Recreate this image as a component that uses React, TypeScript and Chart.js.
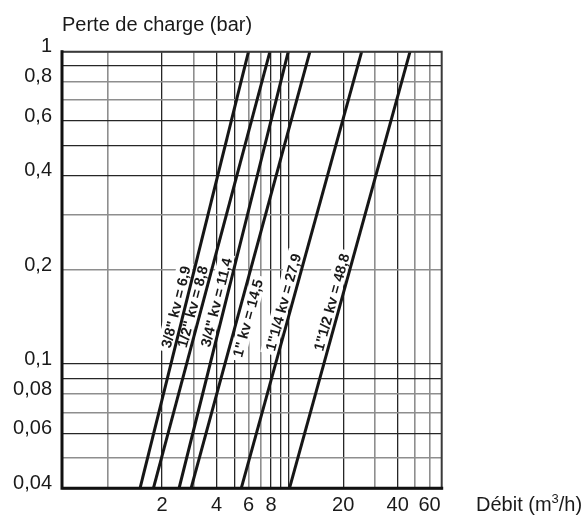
import React, { useEffect, useRef } from 'react';
import { Chart, registerables } from 'chart.js';

Chart.register(...registerables);

// ---- data ----
const pipeSizes = ['3/8"', '1/2"', '3/4"', '1"', '1"1/4', '1"1/2'];
const kvLabels = ['6,9', '8,8', '11,4', '14,5', '27,9', '48,8'];
// flow (m3/h) where each line meets the bottom (0.04 bar) and top (1 bar) of the grid
const flowAtMinLoss = [1.51, 1.79, 2.48, 2.89, 5.47, 10.1];
const flowAtMaxLoss = [6.0, 7.88, 9.95, 13.1, 25.3, 46.8];
const lossMin = 0.04;
const lossMax = 1;
// pressure drop (bar) at which each line's label is centred
const labelLoss = [0.15, 0.15, 0.155, 0.143, 0.155, 0.155];

const xGrid = [1, 2, 3, 4, 5, 6, 7, 8, 9, 10, 20, 30, 40, 50, 60];
const xLabeled = [2, 4, 6, 8, 20, 40, 60];
const xStrong = [2, 4, 5, 8, 9, 10, 20, 40];
const yGrid = [0.04, 0.05, 0.06, 0.07, 0.08, 0.09, 0.1, 0.2, 0.3, 0.4, 0.5, 0.6, 0.7, 0.8, 0.9, 1];
const yLabeled = [0.04, 0.06, 0.08, 0.1, 0.2, 0.4, 0.6, 0.8, 1];
const yStrong = [0.06, 0.09, 0.1, 0.4, 0.5, 0.6, 0.9];

// label placement: which side of its line each label sits (left / right)
const LABEL_RIGHT = [false, false, false, true, false, false];

const FONT = '"Liberation Sans", Arial, Helvetica, sans-serif';
const has = (arr: number[], v: number) => arr.some((a) => Math.abs(a - v) < 1e-9);

export default function App() {
  const ref = useRef<HTMLCanvasElement | null>(null);

  useEffect(() => {
    if (!ref.current) return;

    const labelPlugin = {
      id: 'lineLabels',
      beforeDatasetsDraw(chart: any) {
        const { ctx, scales } = chart;
        const xs = scales.x;
        const ys = scales.y;
        ctx.save();
        ctx.font = `bold 14.5px ${FONT}`;
        pipeSizes.forEach((size, i) => {
          const x0 = xs.getPixelForValue(flowAtMinLoss[i]);
          const y0 = ys.getPixelForValue(lossMin);
          const x1 = xs.getPixelForValue(flowAtMaxLoss[i]);
          const y1 = ys.getPixelForValue(lossMax);
          const ang = Math.atan2(y1 - y0, x1 - x0);
          const yp = ys.getPixelForValue(labelLoss[i]);
          const t = (yp - y0) / (y1 - y0);
          const xp = x0 + t * (x1 - x0);
          const text = `${size} kv = ${kvLabels[i]}`;
          const w = ctx.measureText(text).width;
          const h = 12;
          const gap = 3;
          ctx.save();
          ctx.translate(xp, yp);
          ctx.rotate(ang);
          ctx.textAlign = 'center';
          ctx.textBaseline = 'alphabetic';
          if (LABEL_RIGHT[i]) {
            ctx.fillStyle = '#ffffff';
            ctx.fillRect(-w / 2 - 4, gap - 1, w + 8, h + 4);
            ctx.fillStyle = '#1a1a1a';
            ctx.fillText(text, 0, gap + h);
          } else {
            ctx.fillStyle = '#ffffff';
            ctx.fillRect(-w / 2 - 4, -gap - h - 3, w + 8, h + 4);
            ctx.fillStyle = '#1a1a1a';
            ctx.fillText(text, 0, -gap - 1);
          }
          ctx.restore();
        });
        ctx.restore();
      },
      afterDatasetsDraw(chart: any) {
        const { ctx, chartArea: a } = chart;
        ctx.save();
        ctx.lineCap = 'square';
        ctx.strokeStyle = '#3a3a3a';
        ctx.lineWidth = 2;
        ctx.beginPath();
        ctx.moveTo(a.left, a.top);
        ctx.lineTo(a.right, a.top);
        ctx.lineTo(a.right, a.bottom);
        ctx.stroke();
        ctx.strokeStyle = '#111';
        ctx.lineWidth = 3;
        ctx.beginPath();
        ctx.moveTo(a.left, a.top);
        ctx.lineTo(a.left, a.bottom);
        ctx.lineTo(a.right, a.bottom);
        ctx.stroke();
        ctx.restore();
      },
      afterDraw(chart: any) {
        const { ctx } = chart;
        ctx.save();
        ctx.fillStyle = '#1a1a1a';
        ctx.textBaseline = 'alphabetic';
        ctx.textAlign = 'left';
        ctx.font = `20px ${FONT}`;
        ctx.fillText('Perte de charge (bar)', 62, 31);
        const bx = 476;
        const by = 511;
        const p1 = 'Débit (m';
        ctx.fillText(p1, bx, by);
        let x = bx + ctx.measureText(p1).width;
        ctx.font = `13px ${FONT}`;
        ctx.fillText('3', x, by - 8);
        x += ctx.measureText('3').width;
        ctx.font = `20px ${FONT}`;
        ctx.fillText('/h)', x, by);
        ctx.restore();
      },
    };

    const chart = new Chart(ref.current, {
      type: 'line',
      data: {
        datasets: pipeSizes.map((size, i) => ({
          label: `${size} kv = ${kvLabels[i]}`,
          data: [
            { x: flowAtMinLoss[i], y: lossMin },
            { x: flowAtMaxLoss[i], y: lossMax },
          ],
          borderColor: '#161616',
          borderWidth: 3,
          pointRadius: 0,
          tension: 0,
        })),
      },
      options: {
        responsive: false,
        animation: false,
        events: [],
        layout: { padding: { top: 51.7, right: 145.3, left: 0, bottom: 0 } },
        plugins: { legend: { display: false }, tooltip: { enabled: false }, title: { display: false } },
        scales: {
          x: {
            type: 'logarithmic',
            min: 0.56,
            max: 70,
            afterBuildTicks: (s: any) => {
              s.ticks = xGrid.map((v) => ({ value: v }));
            },
            afterFit: (s: any) => {
              s.height = 515 - 488.3;
            },
            border: { display: false },
            grid: {
              drawTicks: false,
              color: (c: any) => (has(xStrong, c.tick?.value) ? '#262626' : '#8e8e8e'),
              lineWidth: (c: any) => (has(xStrong, c.tick?.value) ? 1.3 : 1.6),
            },
            ticks: {
              autoSkip: false,
              maxRotation: 0,
              minRotation: 0,
              padding: 5,
              color: '#1a1a1a',
              font: { family: FONT, size: 20 },
              callback: (v: any) => (has(xLabeled, Number(v)) ? String(v) : ''),
            },
          },
          y: {
            type: 'logarithmic',
            min: lossMin,
            max: lossMax,
            afterBuildTicks: (s: any) => {
              s.ticks = yGrid.map((v) => ({ value: v }));
            },
            afterFit: (s: any) => {
              s.width = 62;
            },
            border: { display: false },
            grid: {
              drawTicks: false,
              color: (c: any) => (has(yStrong, c.tick?.value) ? '#262626' : '#8e8e8e'),
              lineWidth: (c: any) => (has(yStrong, c.tick?.value) ? 1.3 : 1.6),
            },
            ticks: {
              autoSkip: false,
              padding: 10,
              labelOffset: -5,
              color: '#1a1a1a',
              font: { family: FONT, size: 20 },
              callback: (v: any) => (has(yLabeled, Number(v)) ? String(v).replace('.', ',') : ''),
            },
          },
        },
      },
      plugins: [labelPlugin],
    } as any);

    return () => chart.destroy();
  }, []);

  return (
    <div style={{ position: 'absolute', left: 0, top: 0, width: 587, height: 515, background: '#fff' }}>
      <canvas ref={ref} width={587} height={515} style={{ display: 'block' }} />
    </div>
  );
}
